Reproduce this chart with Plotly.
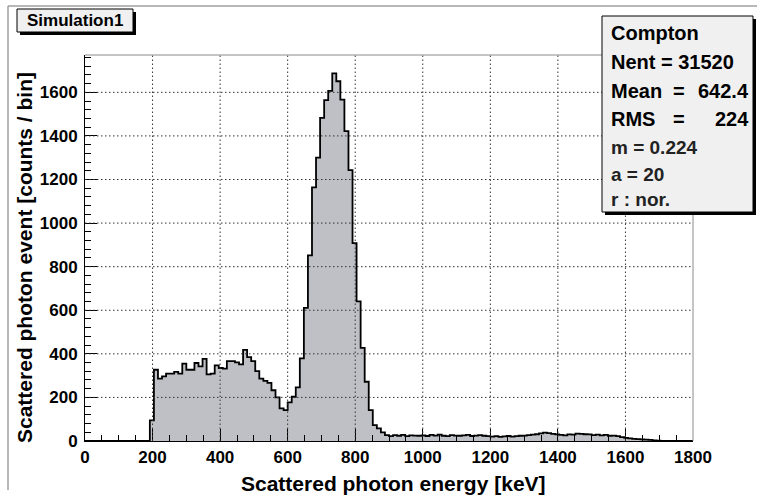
import numpy as np
import plotly.graph_objects as go

# ---------------- data ----------------
BIN_WIDTH = 12.0
bin_low_edges = np.arange(0, 1800, BIN_WIDTH)  # 150 bins, 0..1800 keV

counts = [
    # 0 - 180 keV
    0, 0, 0, 0, 0, 0, 0, 0, 0, 0, 0, 0, 0, 0, 0, 0,
    # 192
    95,
    # 204 - 396
    327, 286, 297, 309, 309, 317, 309, 355, 327, 327, 358, 342, 377, 306, 309, 347, 335,
    # 408 - 588
    332, 367, 367, 361, 352, 418, 385, 367, 321, 286, 276, 267, 233, 200, 150, 142,
    # 600 - 660
    177, 203, 246, 379, 611, 852,
    # 672 - 780
    1164, 1300, 1483, 1564, 1607, 1687, 1651, 1567, 1422, 1243,
    # 792 - 888
    908, 641, 427, 272, 142, 73, 58, 40, 27,
    # 900 - 996
    22, 27, 24, 28, 22, 26, 25, 24, 26,
    # 1008 - 1092
    23, 28, 25, 29, 24, 22, 27, 25,
    # 1104 - 1188
    24, 26, 28, 23, 25, 27, 24, 22,
    # 1200 - 1284
    20, 22, 19, 21, 23, 20, 22, 24,
    # 1296 - 1392
    25, 27, 29, 31, 35, 38, 36, 33, 30,
    # 1404 - 1488
    28, 26, 30, 29, 34, 33, 31, 30,
    # 1500 - 1584
    27, 29, 26, 28, 24, 25, 22, 18,
    # 1596 - 1680
    14, 12, 10, 9, 7, 6, 5, 3,
    # 1692 - 1788
    2, 1, 1, 1, 0, 0, 0, 0, 0,
]
assert len(counts) == len(bin_low_edges), len(counts)

x_ticks = [0, 200, 400, 600, 800, 1000, 1200, 1400, 1600, 1800]
y_ticks = [0, 200, 400, 600, 800, 1000, 1200, 1400, 1600]
x_grid = [200, 400, 600, 800, 1000, 1200, 1400, 1600]
y_grid = [200, 400, 600, 800, 1000, 1200, 1400, 1600]
X_RANGE = [0, 1800]
Y_MAX = max(counts) * 1.05

hist_title = "Simulation1"
stats_name = "Compton"
stats_rows = [("Nent = 31520", None, None),
              ("Mean", "=", "642.4"),
              ("RMS", "=", "224")]
extra_rows = ["m = 0.224", "a = 20", "r : nor."]

x_title = "Scattered photon energy [keV]"
y_title = "Scattered photon event [counts / bin]"

# ---------------- layout helpers ----------------
W, H = 757, 495
ML, MR, MT, MB = 85, 64, 55, 54
PW, PH = W - ML - MR, H - MT - MB


def px(x):
    return (x - ML) / PW


def py(y):
    return (H - MB - y) / PH


FONT = "Liberation Sans, Arial, Helvetica, sans-serif"

# ---------------- figure ----------------
xs = list(bin_low_edges) + [X_RANGE[1]]
ys = list(counts) + [counts[-1]]

fig = go.Figure()
fig.add_trace(go.Scatter(
    x=xs, y=ys, mode="lines", line_shape="hv",
    line=dict(color="black", width=1.8),
    fill="tozeroy", fillcolor="#bfc0c5",
    hoverinfo="skip", showlegend=False,
))

shapes = []
# grid (dotted, above the histogram like ROOT)
for g in x_grid:
    shapes.append(dict(type="line", xref="x", yref="paper", x0=g, x1=g, y0=0, y1=1,
                       line=dict(color="#333333", width=1, dash="1.5px,2.5px"), layer="above"))
for g in y_grid:
    shapes.append(dict(type="line", xref="paper", yref="y", x0=0, x1=1, y0=g, y1=g,
                       line=dict(color="#333333", width=1, dash="1.5px,2.5px"), layer="above"))

# frame top / right (grey)
shapes.append(dict(type="line", xref="paper", yref="paper", x0=0, x1=1, y0=1, y1=1,
                   line=dict(color="#8a8a8a", width=1), layer="above"))
shapes.append(dict(type="line", xref="paper", yref="paper", x0=1, x1=1, y0=0, y1=1,
                   line=dict(color="#8a8a8a", width=1), layer="above"))

# pad border
shapes.append(dict(type="line", xref="paper", yref="paper", x0=px(8), x1=px(757), y0=py(6), y1=py(6),
                   line=dict(color="#a0a0a0", width=1.5), layer="above"))
shapes.append(dict(type="line", xref="paper", yref="paper", x0=px(8), x1=px(8), y0=py(6), y1=py(490),
                   line=dict(color="#a0a0a0", width=1.5), layer="above"))


def box(x0, y0, x1, y1, sh=3):
    shapes.append(dict(type="rect", xref="paper", yref="paper",
                       x0=px(x0 + sh), x1=px(x1 + sh), y0=py(y0 + sh), y1=py(y1 + sh),
                       fillcolor="black", line=dict(width=0), layer="above"))
    shapes.append(dict(type="rect", xref="paper", yref="paper",
                       x0=px(x0), x1=px(x1), y0=py(y0), y1=py(y1),
                       fillcolor="#f0f0f0", line=dict(color="black", width=1), layer="above"))


box(17, 9, 133, 32)
box(602, 16, 753, 212)

ann = []


def text(t, x, y, size, anchor="left", color="black", angle=0):
    ann.append(dict(text=t, xref="paper", yref="paper", x=px(x), y=py(y),
                    xanchor=anchor, yanchor="middle", showarrow=False, textangle=angle,
                    font=dict(family=FONT, size=size, color=color, weight="bold")))


text(hist_title, 75, 20.5, 17, anchor="center")
text(stats_name, 609, 33, 20)
line_y = [62, 91, 119]
for (a, b, c), yy in zip(stats_rows, line_y):
    text(a, 609, yy, 20)
    if b:
        text(b, 679, yy, 20, anchor="center")
        text(c, 751, yy, 20, anchor="right")
for t, yy in zip(extra_rows, [147, 174, 199]):
    text(t, 609, yy, 19, color="#222222")

text(x_title, 393, 483, 21, anchor="center")
text(y_title, 24, 258, 21, anchor="center", angle=-90)

axis_common = dict(showgrid=False, zeroline=False, showline=True, linecolor="black", linewidth=1,
                   ticks="inside", ticklen=12, tickwidth=1, tickcolor="black",
                   layer="above traces",
                   tickfont=dict(family=FONT, size=17, color="black", weight="bold"))

fig.update_layout(
    width=W, height=H,
    margin=dict(l=ML, r=MR, t=MT, b=MB, pad=0),
    paper_bgcolor="white", plot_bgcolor="white",
    shapes=shapes, annotations=ann, showlegend=False,
    xaxis=dict(range=X_RANGE, tickvals=x_ticks, ticktext=[str(v) for v in x_ticks],
               minor=dict(dtick=50, ticks="inside", ticklen=6, tickcolor="black", showgrid=False),
               ticklabelstandoff=1, **axis_common),
    yaxis=dict(range=[0, Y_MAX], tickvals=y_ticks, ticktext=[str(v) for v in y_ticks],
               minor=dict(dtick=40, ticks="inside", ticklen=6, tickcolor="black", showgrid=False),
               ticklabelstandoff=3, **axis_common),
)

fig.write_html("out.html")
